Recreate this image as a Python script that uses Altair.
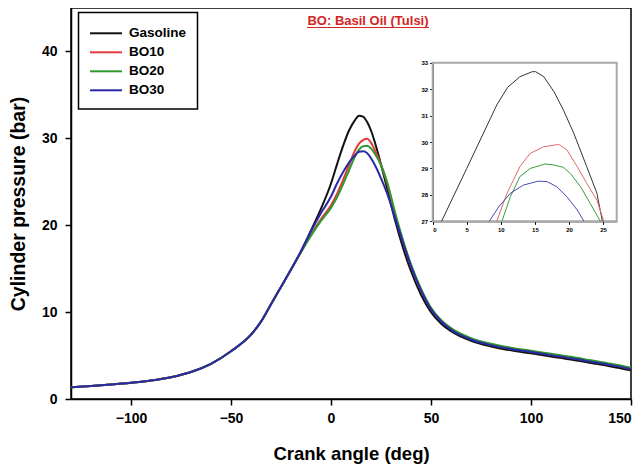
import altair as alt
import pandas as pd

FONT = "Liberation Sans"

fuels = ["Gasoline", "BO10", "BO20", "BO30"]
main_colors = ["#111111", "#e23b3b", "#2c9a2c", "#2a2aa8"]
inset_colors = ["#333333", "#e06a6a", "#3c9c3c", "#4a4ab4"]

# Main chart: crank angle (deg) and cylinder pressure (bar)
angles = [-130, -120, -110, -100, -90, -80, -70, -60, -50, -40, -35, -30, -25, -20, -15,
          -10, -5, 0, 3, 6, 9, 12, 14, 16, 18, 20, 22, 25, 28, 32, 36, 40, 45, 50, 55, 60,
          70, 80, 90, 100, 110, 120, 130, 140, 150]
common_rise = [1.35, 1.5, 1.67, 1.87, 2.12, 2.5, 3.1, 4.05, 5.5, 7.4, 8.9, 10.9, 12.9, 14.9]
gasoline = common_rise + [17.0, 19.4, 21.9, 24.8, 27.0, 29.1, 30.9, 32.1, 32.6, 32.5, 31.9,
                          30.9, 29.5, 27.0, 24.3, 20.6, 17.4, 14.7, 12.0, 10.0, 8.7, 7.8,
                          6.7, 6.05, 5.6, 5.25, 4.9, 4.55, 4.15, 3.75, 3.3]
bo10 = common_rise + [16.9, 18.9, 20.7, 22.3, 23.6, 25.2, 26.9, 28.6, 29.4, 29.8, 29.95,
                      29.5, 28.6, 27.0, 24.9, 21.3, 18.1, 15.3, 12.5, 10.4, 9.0, 8.05,
                      6.9, 6.25, 5.8, 5.45, 5.1, 4.75, 4.35, 3.95, 3.5]
bo20 = common_rise + [16.9, 18.8, 20.5, 22.0, 23.2, 24.7, 26.3, 27.9, 28.7, 29.1, 29.15,
                      28.85, 28.2, 26.9, 25.0, 21.5, 18.3, 15.5, 12.7, 10.5, 9.1, 8.15,
                      7.0, 6.35, 5.9, 5.55, 5.2, 4.85, 4.45, 4.05, 3.6]
bo30 = common_rise + [17.0, 19.3, 21.4, 23.3, 24.8, 26.1, 27.2, 28.05, 28.45, 28.5, 28.3,
                      27.7, 26.9, 25.4, 23.7, 20.9, 18.0, 15.3, 12.5, 10.35, 8.95, 8.0,
                      6.85, 6.2, 5.75, 5.4, 5.05, 4.7, 4.3, 3.9, 3.45]

# Inset (zoom on the peak)
in_gas_x = [1.3, 5.0, 9.4, 11.0, 12.8, 14.6, 15.1, 16.3, 17.8, 19.2, 20.7, 22.6, 24.1, 24.9]
in_gas_y = [27.0, 29.0, 31.4, 32.07, 32.47, 32.66, 32.66, 32.47, 31.9, 31.2, 30.33, 29.07, 28.06, 27.0]
in_bo10_x = [9.4, 10.9, 12.8, 14.3, 16.3, 18.5, 19.7, 21.2, 22.6, 24.1, 25.1]
in_bo10_y = [27.0, 28.06, 29.07, 29.57, 29.82, 29.91, 29.7, 29.07, 28.44, 27.8, 27.0]
in_bo20_x = [10.15, 11.4, 12.8, 14.3, 16.5, 17.8, 19.2, 20.2, 21.7, 23.1, 24.6]
in_bo20_y = [27.0, 27.93, 28.69, 29.0, 29.17, 29.13, 29.04, 28.81, 28.31, 27.68, 27.0]
in_bo30_x = [8.3, 9.7, 11.4, 13.3, 15.5, 16.8, 18.2, 19.7, 21.2, 22.2]
in_bo30_y = [27.0, 27.55, 28.06, 28.37, 28.52, 28.5, 28.31, 27.93, 27.43, 27.0]

x_ticks = [-100, -50, 0, 50, 100, 150]
y_ticks = [0, 10, 20, 30, 40]
inset_x_ticks = [0, 5, 10, 15, 20, 25]
inset_y_ticks = [27, 28, 29, 30, 31, 32, 33]

rows = []
for f, ys in zip(fuels, [gasoline, bo10, bo20, bo30]):
    for a, p in zip(angles, ys):
        rows.append({"angle": a, "pressure": p, "fuel": f})
main_df = pd.DataFrame(rows)

irows = []
for f, xs, ys in zip(fuels, [in_gas_x, in_bo10_x, in_bo20_x, in_bo30_x],
                     [in_gas_y, in_bo10_y, in_bo20_y, in_bo30_y]):
    for a, p in zip(xs, ys):
        irows.append({"angle": a, "pressure": p, "fuel": f})
inset_df = pd.DataFrame(irows)

W, H = 560, 391
IX0, IX1 = 361.7, 545.7
IY0, IY1 = 213.3, 54.7

main = alt.Chart(main_df).mark_line(strokeWidth=2, interpolate="monotone").encode(
    x=alt.X("angle:Q", scale=alt.Scale(domain=[-130, 150], nice=False, zero=False),
            axis=alt.Axis(values=x_ticks, title="Crank angle (deg)", grid=False,
                          labelFontSize=14, labelFontWeight="bold", labelPadding=6,
                          titleFontSize=18.5, titleFontWeight="bold", titlePadding=19,
                          tickSize=6)),
    y=alt.Y("pressure:Q", scale=alt.Scale(domain=[0, 45], nice=False),
            axis=alt.Axis(values=y_ticks, title="Cylinder pressure (bar)", grid=False,
                          labelFontSize=14, labelFontWeight="bold", labelPadding=8,
                          titleFontSize=19.5, titleFontWeight="bold", titlePadding=13,
                          tickSize=6)),
    color=alt.Color("fuel:N", sort=fuels,
                    scale=alt.Scale(domain=fuels, range=main_colors), legend=None),
)

inset = alt.Chart(inset_df).mark_line(strokeWidth=1).encode(
    x=alt.X("angle:Q", scale=alt.Scale(domain=[0, 27], range=[IX0, IX1], nice=False, zero=False),
            axis=alt.Axis(orient="bottom", offset=-(H - IY0), values=inset_x_ticks, title=None,
                          grid=False, labelFontSize=6, labelFontWeight="bold", tickSize=3,
                          labelPadding=2, domainWidth=1, tickWidth=1)),
    y=alt.Y("pressure:Q", scale=alt.Scale(domain=[27, 33], range=[IY0, IY1], nice=False, zero=False),
            axis=alt.Axis(orient="left", offset=-IX0, values=inset_y_ticks, title=None,
                          grid=False, labelFontSize=6, labelFontWeight="bold", tickSize=3,
                          labelPadding=2, domainWidth=1, tickWidth=1)),
    color=alt.Color("fuel:N", scale=alt.Scale(domain=fuels, range=inset_colors), legend=None),
)

one = pd.DataFrame({"k": [0]})

frame = alt.Chart(one).mark_rect(
    filled=False, stroke="#a8a8a8", strokeWidth=2
).encode(x=alt.value(IX0), x2=alt.value(IX1), y=alt.value(IY1), y2=alt.value(IY0))

title_txt = alt.Chart(one).mark_text(
    font=FONT, fontSize=13, fontWeight="bold", color="#d62424", align="center", baseline="alphabetic"
).encode(x=alt.value(297), y=alt.value(17), text=alt.value("BO: Basil Oil (Tulsi)"))

underline = alt.Chart(one).mark_rule(color="#d62424", strokeWidth=1.2).encode(
    x=alt.value(236), x2=alt.value(358), y=alt.value(19.5))

# Legend (box, line swatches, labels)
leg_df = pd.DataFrame({"fuel": fuels, "row": [0, 1, 2, 3]})
leg_df["ly"] = 25.3 + leg_df["row"] * 19.0

leg_box = alt.Chart(one).mark_rect(fill="white", stroke="black", strokeWidth=1.5).encode(
    x=alt.value(7.5), x2=alt.value(126.5), y=alt.value(4.5), y2=alt.value(101))
leg_lines = alt.Chart(leg_df).mark_rule(strokeWidth=2).encode(
    x=alt.value(19), x2=alt.value(51), y=alt.Y("ly:Q", scale=None, axis=None),
    color=alt.Color("fuel:N", scale=alt.Scale(domain=fuels, range=main_colors), legend=None))
leg_text = alt.Chart(leg_df).mark_text(
    font=FONT, fontSize=13.5, fontWeight="bold", color="black", align="left", baseline="middle"
).encode(x=alt.value(58), y=alt.Y("ly:Q", scale=None, axis=None), text="fuel:N")

chart = alt.layer(frame, main, inset, title_txt, underline, leg_box, leg_lines, leg_text).resolve_scale(
    x="independent", y="independent", color="independent"
).properties(
    width=W, height=H, autosize=alt.AutoSizeParams(type="none"),
    padding={"left": 63, "top": 0, "right": 2, "bottom": 70},
).configure(font=FONT).configure_axis(
    domainColor="black", domainWidth=1.5, tickColor="black", tickWidth=1.5,
    labelColor="black", titleColor="black", labelFont=FONT, titleFont=FONT,
).configure_view(stroke="black", strokeWidth=1.5)

chart.save("out.html", embed_options={"renderer": "svg", "actions": False})
